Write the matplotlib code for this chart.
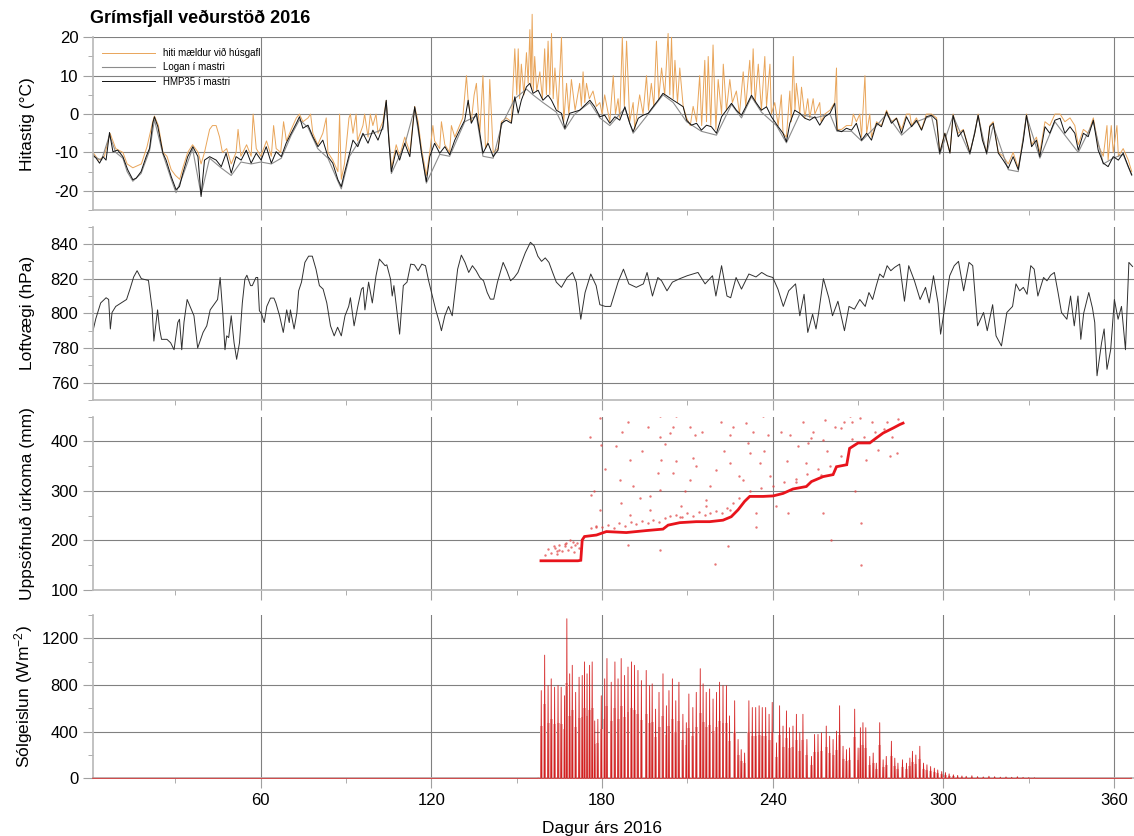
import numpy as np
import matplotlib.pyplot as plt
from matplotlib.ticker import MultipleLocator

plt.rcParams['font.family'] = ['Liberation Sans', 'DejaVu Sans']
plt.rcParams['axes.unicode_minus'] = False
plt.rcParams['mathtext.default'] = 'regular'

# --- hiti: HMP35 i mastri (dagur, gradur)
hmp_day = [1, 2.1, 3.3, 4.5, 5.6, 6.8, 8, 9.7, 11.5, 13.2, 15, 16.2, 17.9, 19.7, 20.9, 22, 22.6, 23.8,
           25.6, 26.7, 28.5, 30.2, 31.4, 32.6, 34.3, 36.1, 37.9, 39, 40.2, 42, 44.3, 46.1, 47.8, 49.6,
           51.3, 53.1, 54.9, 56.6, 58.4, 60.1, 61.9, 63.7, 65.4, 67.2, 68.9, 70.7, 72.5, 73.6, 74.8,
           76.6, 78.3, 80.1, 81.8, 83.6, 85.3, 87.1, 88.3, 89.4, 91.2, 92.4, 94.1, 95.9, 97.7, 99.4,
           101.2, 102.9, 104.1, 105, 105.9, 107.6, 108.8, 110.6, 112.4, 114.1, 115.3, 116.5, 118.2,
           119.4, 121.1, 122.9, 124.7, 126.4, 128.2, 129.9, 131.7, 132.9, 134, 135.8, 137, 138.1,
           139.9, 141.7, 143.4, 144.6, 146.3, 148.1, 149.3, 150.5, 151.6, 153.4, 154.6, 155.7, 157.5,
           159.2, 161, 162.2, 163.9, 165.7, 166.9, 168.6, 170.4, 172.1, 173.9, 175.7, 177.4, 179.2,
           180.9, 182.7, 184.5, 186.2, 188, 189.7, 190.9, 192.7, 194.4, 196.2, 197.9, 199.7, 201.4,
           203.2, 205, 206.7, 208.5, 209.7, 211.4, 213.2, 214.9, 216.7, 218.4, 220.2, 222, 223.7,
           225.5, 227.2, 229, 230.8, 232.5, 234.3, 236, 237.8, 239.5, 241.9, 243.6, 244.8, 246,
           247.7, 249.5, 251.3, 253, 254.8, 256.5, 258.3, 260.1, 261.8, 262.6, 264.2, 265.9, 267.7,
           269.4, 271.2, 273, 274.7, 276.5, 278.2, 280, 281.7, 283.5, 285.3, 287, 288.8, 290.5,
           292.3, 294, 295.8, 297.6, 298.7, 300.5, 302.3, 303.4, 305.2, 307, 309.3, 311, 312.2,
           313.7, 315.2, 316.3, 317.5, 319.3, 321, 322.8, 324.5, 326.3, 328.1, 329.2, 331, 332.7,
           333.9, 335.7, 337.4, 339.2, 341, 342.7, 344.5, 346.2, 347.4, 349.2, 350.9, 352.7, 354.4,
           356.2, 357.9, 359.7, 361.5, 363.2, 365, 366.2]
hmp_temp = [-10.6, -11.5, -12.8, -11.1, -12, -4.8, -9.8, -9.4, -11.1, -14.5, -17.1, -16.7, -15, -11.1,
            -8.9, -2.4, -0.7, -3.3, -10.2, -12, -16.3, -19.7, -18.9, -15.4, -11.1, -8.5, -11.1, -21.5,
            -12, -11.1, -12, -13.7, -10.2, -15.4, -11.1, -12, -9.4, -12.8, -10.2, -12, -8.5, -12.8,
            -9.8, -11.1, -7.6, -5, -2.4, -0.7, -3.7, -2.9, -5.9, -8.5, -6.8, -11.1, -12.8, -17.1,
            -18.9, -15.4, -10.2, -6.8, -8.5, -5, -7.6, -4.2, -6.8, -3.3, 3.6, -6.8, -15, -9.4, -12,
            -7.6, -11.1, 1.9, -3.3, -10.2, -17.6, -11.1, -7.6, -10.2, -8.5, -10.6, -6.8, -4.2, -1.6,
            3.6, -2.4, 0.2, -5, -10.2, -7.6, -11.1, -9.4, -2.4, -1.6, -2.4, 4.5, 0.2, 3.6, 7.1, 8,
            5.4, 6.2, 3.6, 4.9, 3.6, 1, 0.2, -3.7, 0.2, 0.6, 1, 2.3, 3.6, 1.9, -0.7, -0.3, -2.4, -0.7,
            -1.6, 1.9, -2.4, -4.6, -1.1, -0.3, 0.2, 1.9, 3.6, 5.4, 4.5, 3.6, 2.8, 1.9, -1.6, -2.9,
            -2.4, -4.2, -2.9, -3.3, -5, -0.7, 1, 2.8, 1, -0.3, 2.3, 4.9, 2.8, 1, 1.9, -0.7, -3.3, -5,
            -7.2, -2.4, 1, 0.2, -1.1, -1.6, -0.7, -2.9, -0.7, 0.2, 2.8, -4.2, -4.6, -3.7, -4.2, -2.4,
            -6.8, -5, -6.8, -2.4, -3.3, 0.6, -2.4, -1.1, -5, -0.7, -3.3, -1.6, -4.2, -0.7, -0.3, -1.6,
            -10.2, -5, -10.2, -0.3, -5.9, -4.2, -10.2, -5, -0.3, -6.8, -10.2, -3.3, -2.4, -10.2, -12,
            -14.1, -11.1, -14.5, -6.8, -0.3, -8.5, -6.8, -11.1, -3.3, -5, -1.6, -1.1, -5, -3.3, -5,
            -9.4, -5, -5.9, -1.6, -9.4, -12.8, -13.7, -11.1, -12, -10.2, -13.7, -15.8]

# --- hiti: Logan i mastri
logan_day = [1, 4, 6.8, 9, 11.5, 13, 15, 17.9, 20.9, 22.6, 25.6, 28.5, 30.2, 32.6, 36, 39, 42, 46, 49.6,
             53, 56.6, 60, 63.7, 67.2, 70.7, 73.6, 76.6, 80, 83.6, 87.1, 88.3, 91.2, 95.9, 99.4, 102.9,
             104.1, 105.9, 110.6, 114.1, 118.2, 122.9, 126.4, 131.7, 135.8, 138.1, 141.7, 144.6, 149.3,
             153.4, 155.7, 159.2, 163.9, 166.9, 170.4, 175.7, 179.2, 182.7, 188, 190.9, 196.2, 201.4,
             205, 209.7, 214.9, 220.2, 225.5, 229, 232.5, 236, 241.3, 244.8, 249.5, 254.8, 260.1,
             262.6, 267.7, 271.2, 276.5, 280, 285.3, 290.5, 295.8, 298.7, 303.4, 309.3, 312.2, 315.2,
             317.5, 322.8, 326.3, 329.2, 333.9, 339.2, 342.7, 347.4, 352.7, 356.2, 359.7, 363.2, 366.2]
logan_temp = [-11, -12, -5.5, -10, -11.5, -15, -17.5, -15.5, -9.5, -1.5, -10.5, -17, -20.5, -16, -9, -21,
              -11.5, -14, -16, -12.5, -13, -12.5, -13, -11.5, -5.5, -1.5, -3.5, -9, -11.5, -17.5, -19.5,
              -11, -5.5, -5, -4, 3, -15.5, -8, 1.5, -18, -10.5, -11, -2, -0.5, -11, -11.5, -3, 4, 6.5,
              5, 3, 0.5, -4, 0, 3, -1, -3, 1.5, -5, 0, 5, 3, -2, -4.5, -5.5, 2.5, -1, 4.5, 0.5, -3,
              -7.5, 0, -1, 0, -4.5, -4.5, -7, -3, 0, -5.5, -2, -0.5, -10.5, -0.5, -10.5, -0.5, -10.5,
              -3, -14.5, -15, -0.5, -11.5, -2, -5.5, -10, -2, -13, -11.5, -10.5, -16]

# --- hiti maeldur vid husgafl
hus_day = [1, 3, 5, 7, 9, 11.5, 13, 15, 16.5, 18, 20, 22, 22.6, 24, 25.6, 27, 28.5, 30, 31.5, 32.6, 34.3,
           36, 38, 39, 40.2, 42, 43, 44.3, 45.5, 46.5, 48, 49.6, 51.3, 52, 53, 55, 56.6, 57.3, 58.4, 60,
           62, 63.7, 64.5, 65.4, 67, 68, 69, 70.7, 72.5, 73.6, 74.8, 76.6, 77.5, 78.3, 80, 81.8, 83,
           83.6, 85.3, 87.1, 87.7, 88.3, 89.4, 91, 91.5, 92.4, 93.5, 94, 95.9, 96.5, 97.7, 98.5, 99.4,
           100.5, 101.2, 102.9, 104.1, 105, 106, 107.6, 108.8, 110.6, 112.4, 114.1, 115.3, 116.5, 118.2,
           119.4, 120.5, 121.1, 122.9, 123.5, 124.7, 126.4, 127, 128.2, 129.9, 131, 132.3, 132.9, 134,
           135, 135.8, 136.5, 137, 138.1, 139, 139.9, 140.5, 141.7, 143.4, 144.6, 146.3, 148.1,
           149.3, 150, 150.5, 151, 151.6, 152.5, 153.4, 154, 154.6, 155, 155.4, 155.8, 156.3, 157,
           158.1, 159, 159.8, 160.4, 161, 161.6, 162.2, 162.8, 163.4, 164.5, 165.7, 166.5, 167.5,
           168.3, 169.2, 170.5, 172.1, 172.7, 173.3, 173.9, 174.5, 175.5, 176.8, 178, 179.2, 180,
           180.9, 182.7, 183.9, 184.7, 185.6, 186.2, 187.1, 187.8, 188.6, 189.7, 190.9, 191.5, 193.2,
           194.4, 195.6, 196.3, 197.3, 198.2, 199.1, 199.9, 200.9, 202, 203.2, 203.8, 204.4, 205,
           205.6, 206.5, 207.3, 208.5, 209.7, 211, 212, 213.2, 214.3, 215, 216.1, 216.7, 217.3,
           218.2, 219, 220, 220.8, 222, 222.6, 223.7, 224.9, 225.8, 227.2, 228.3, 229.6, 230.5,
           231.9, 232.5, 233.1, 233.8, 234.9, 236, 237.2, 237.8, 239, 239.5, 240.7, 241.9, 243,
           243.6, 244.8, 246, 246.5, 247.2, 247.8, 248.3, 249.5, 250.1, 251.3, 252.3, 253, 254.2,
           254.8, 256.5, 257, 258.3, 260.1, 261.8, 262.4, 262.7, 264.2, 265.9, 267.7, 268.3, 269.4,
           270.6, 271.2, 272.4, 273, 274.1, 274.7, 276.5, 278.2, 280, 281.7, 283.5, 285.3, 287,
           288.2, 288.8, 290.5, 292.3, 294, 295.8, 297.6, 298.7, 300.5, 302.3, 303.4, 305.2, 307,
           309.3, 311, 312.2, 313.7, 315.2, 316.3, 317.5, 319.3, 321, 322.8, 324.5, 326.3, 328.1,
           329.2, 331, 332.7, 333.9, 335.7, 337.4, 339.2, 341, 342.7, 344.5, 346.2, 347.4, 349.2,
           350.9, 352.7, 354.4, 356.2, 357.5, 357.9, 359, 359.7, 361, 361.5, 363.2, 365, 366.2]
hus_temp = [-10, -12, -11, -5, -9, -10, -13, -14, -13.5, -13, -8.5, -2, -0.5, -3, -10, -11, -14.5, -16,
            -17, -14, -10, -8, -10, -13, -10, -4, -3, -3, -6, -10, -9, -13, -10, -4, -11, -8, -11, 0,
            -9, -11, -7, -11, -3, -9, -10, -2, -7, -4, -1, 0, -2, -1, 0, -5, -8, -5, -1, -10, -12,
            -15, 0, -17, -13, -1, 0, -5, 0, -7, -3, 0, -6, 0, -3, 0, -5, -2, 3.5, -6, -14, -8, -11,
            -6, -10, 2, -2, -9, -16, -10, -3, -7, -9, -2, -8, -10, -3, -6, -3, -1, 10, 3.5, -2, 5,
            8, 0, -5, 10, -9, -7, 9, -10, -9, -2, -1, -2,
            17, 5, 17, 4, 13, 5, 16, 8, 22, 7, 26, 6, 15, 6, 11, 4, 17, 5, 19, 5, 21, 4, 12, 1, 20,
            -2, 8, 0, 9, 1, 8, 2, 11, 3, 8, 4, 6, 2, 3, 0, 5, -2, 10, 0, 4, -1, 20, 2, 19, -2, 3,
            -4, 5, 0, 10, 1, 8, 2, 19, 4, 12, 5, 21, 5, 20, 4, 14, 3, 12, 2, -1, -3, 2, -2, 10, -3,
            14, -2, 15, -3, 18, -4, 9, 0, 13, 1, 9, 3, 6, 0, 11, 2, 14, 5, 17, 3, 13, 1, 15, 2, 13,
            0, 3, -3, 5, -5, -6, 6, -2, 15, 1, 8, 0, 7, -1, 4, -1, 4, 0, 3, -2, 0, 1, 3, 12, -4, -4,
            -3, -3, 0, -2, 0, -6, 10, -5, 0, -6, -2, -3, 1, -2, -1, -4, 0, 0, -3, -1, -4, 0, 0, -1,
            -10, -5, -10, 0, -5, -4, -10, -5, 0, -6, -10, -3, -2, -10, -11, -13, -10, -14, -6, 0, -8,
            -6, -10, -2, -3, 0, 0, -2, -1, -3, -8, -4, -5, -1, -8, -11, -3, -12, -3, -10, -3, -11,
            -9, -12, -15]

# --- loftvaegi (dagur, hPa)
pres_day = [1, 2, 3.7, 5.6, 6.5, 7.1, 7.7, 9, 12.8, 14, 15.3, 16.5, 18, 20.5, 21.8, 22.4, 23.7, 24.4,
            25.1, 27, 28.3, 29.5, 30.8, 31.4, 32.2, 33, 34.1, 36.5, 37.8, 39.7, 41, 42.2, 43.5, 44.8,
            45.7, 46.7, 47.4, 48, 48.7, 49.6, 50.6, 51.5, 52.5, 53.5, 54.4, 55.1, 56.4, 57, 58.3,
            58.9, 59.5, 60.2, 61.2, 62.1, 63.4, 64.6, 65.3, 66.6, 67.9, 69.1, 70, 70.4, 71.7, 72.7,
            73.3, 74.3, 75.5, 76.8, 78.1, 79.4, 80.6, 81.9, 83.2, 84.5, 85.8, 87, 88.3, 89.6, 90.9,
            91.5, 92.8, 94.1, 95.4, 96, 96.6, 97.9, 99.2, 100.5, 101.7, 103.7, 104.3, 105.6, 106.2,
            106.8, 108.8, 110.1, 111.4, 112.7, 114, 115.3, 116.6, 117.9, 119, 120.3, 121.5, 122.8,
            123.5, 124.7, 126, 127.3, 129.2, 130.5, 131.8, 133.1, 134.4, 135.7, 137, 138.3, 139.6,
            140.7, 141.9, 143.2, 145.2, 146.5, 147.8, 149.1, 150.4, 151.7, 153, 154.8, 156.1, 157.4,
            158.7, 160, 161.3, 162.6, 163.9, 165.7, 167.7, 169.6, 170.9, 172.5, 174, 176, 177.9,
            179.2, 181.1, 183, 185.6, 187.5, 189.4, 192, 194.5, 195.8, 197.7, 199.6, 200.9, 202.8,
            204.7, 207.3, 209.9, 213.7, 216.2, 218.8, 220, 222, 223.9, 225.2, 227.1, 229, 231.6,
            234.1, 236.1, 238, 240, 241.8, 243.7, 245.6, 248, 249.5, 251, 252.3, 254, 255.2, 256.1,
            257.8, 259.7, 261, 262.9, 265.2, 266.8, 268.7, 270.6, 272.5, 273.8, 275.1, 276.4, 277.6,
            278.9, 280.2, 281.5, 282.8, 284.6, 286.3, 287.8, 289.8, 291.8, 293.7, 295, 296.5, 298.1,
            299, 300.7, 302.2, 303.8, 305.3, 307.1, 309, 310.3, 312, 314.1, 315.4, 317.3, 318.5,
            320.4, 322.3, 324.3, 325.5, 326.8, 328.1, 329.4, 330.7, 331.9, 333.2, 335.2, 336.4,
            337.7, 339, 340.3, 341.5, 343.4, 344.7, 346, 347.3, 348.3, 349.3, 351.1, 352.4, 353.2,
            354, 355.6, 356.5, 357.5, 358.8, 360.1, 361.4, 362.6, 364, 365.2, 366.5]
pres_hpa = [790, 797, 806, 809, 808, 791, 800.5, 804, 808, 814, 821, 824.6, 820, 819, 802.4, 784, 802,
            791, 785, 785, 783, 779, 794.7, 796.6, 779, 795, 808, 798.6, 780, 789, 792.8, 802, 805,
            808, 820.7, 798.6, 779, 787, 786, 798.6, 783, 773.5, 783, 806, 819.8, 822, 816, 816,
            820.7, 820.7, 801.5, 800, 794.7, 804, 808.8, 808.8, 806, 798.6, 789, 802, 794.7, 802,
            791, 800.5, 813, 818, 829.4, 833, 833, 825.5, 816, 814, 806, 792.8, 787, 792, 787,
            798.6, 804, 809, 792.8, 804, 814, 815, 802, 818, 806, 821.7, 831.3, 827.5, 828, 819.8,
            810, 816, 788, 816, 818, 828.4, 828, 824.6, 828.4, 827.5, 818.8, 810, 802, 794.7, 790,
            798.6, 804, 798.6, 825.5, 833.6, 829.4, 823.6, 827.5, 824.6, 820.7, 818.8, 812, 808.2,
            808.2, 818, 829.4, 824.6, 818.8, 820.7, 823.6, 829.4, 835, 841, 839, 833, 830, 832,
            829.4, 823.6, 818, 815, 820.7, 823.6, 818, 796.6, 812, 822.7, 816, 805, 804, 804, 818,
            825.5, 817, 815, 817, 823.6, 810, 820.7, 818.8, 813, 818, 820, 821.7, 823.6, 817, 821.7,
            810, 827.5, 810, 809, 820.7, 814, 822.7, 821, 823.6, 821.7, 820.7, 814, 804, 813, 817,
            798.6, 811, 789, 799.5, 791, 800, 820, 809, 798.6, 807, 790, 804, 802.4, 808, 804, 812,
            808, 816, 822.7, 820.7, 827.5, 824.6, 826.5, 828.4, 807, 827.5, 818.8, 808, 815, 806,
            821.7, 806, 788, 806, 821.7, 827.5, 830, 813, 829.4, 827.5, 792.8, 800.5, 790, 805, 787,
            781.2, 800.5, 804, 817, 813, 815, 811, 827.5, 825.5, 810, 820.7, 818.8, 822, 823.6,
            812, 800.5, 796.6, 810, 792.8, 810, 785, 800, 812, 803, 794.7, 764, 783, 791, 767.7,
            779, 808, 796.6, 804, 779, 829.4, 827]

# --- uppsofnud urkoma (dagur, mm)
rain_day = [158.5, 162, 166.2, 171.5, 172.5, 173, 173.8, 178, 181.5, 188.5, 195.5, 201.4, 203.2, 207.3,
            213.1, 217.8, 222.5, 225.4, 227.8, 230.1, 231.9, 236.6, 240.1, 243.6, 247.1, 251.8, 253.6,
            257.7, 261.2, 262.4, 266, 267, 270, 274.1, 276.4, 278.8, 282.3, 284.6, 285.8]
rain_mm = [159, 159, 159, 159, 160, 201, 208, 211, 218, 216, 220, 223, 231, 236, 238, 238, 241, 248,
           262, 279, 289, 289, 290, 295, 304, 309, 319, 329, 333, 349, 353, 386, 397, 397, 407, 417,
           427, 434, 437]
stray_day = [179.1, 189.1, 196.1, 200.2, 206.1, 210.8, 221.9, 230.7, 236.6, 250.6, 258.3, 264.1, 267,
             270.6, 175.6, 179.7, 200.2, 203.7, 212.5, 224.8, 231.3, 238.3, 246, 252.4, 257.7, 277,
             283.5, 189.7, 200.8, 206.1, 211.9, 224.8, 231.9, 235.4, 251.8, 186.2, 199.6, 204.9, 210.8,
             220.2, 229.5, 248.3, 257, 176.2, 186.7, 193.2, 200.2, 207.8, 216.6, 224.8, 234.2, 245.4,
             257.7, 179.1, 189.7, 196.7, 207.3, 216.6, 271.1, 189.1, 200.2, 224.3, 219.6, 271.1,
             234.2, 241.2, 168.6, 178, 260.6, 253.6, 272.9, 281.1, 165, 167.4, 169.7, 163.5, 170.5,
             164.2, 166.8,
             176, 178, 180, 182, 184, 186, 188, 190, 192, 194, 196, 198, 200, 202, 204, 206, 208, 210,
             212, 214, 216, 218, 220, 222, 224, 226, 228, 232, 236, 240, 244, 248, 252, 256, 260, 264,
             268, 272, 276, 280, 284,
             177, 181, 185, 187, 191, 194, 197, 202, 205, 209, 213, 215, 218, 223, 226, 228, 233, 237,
             239, 243, 245, 249, 254, 259, 262, 265, 268, 269, 275, 279, 282,
             160, 161, 162, 163, 164, 165, 166, 167, 168, 169, 170, 171, 172]
stray_mm = [447, 440, 430, 451, 451, 430, 440, 437, 451, 440, 444, 427, 451, 447, 410, 393, 410, 417,
            413, 413, 397, 413, 413, 397, 403, 383, 376, 363, 363, 360, 366, 356, 376, 356, 356, 322,
            336, 336, 322, 343, 322, 319, 333, 292, 275, 285, 302, 269, 282, 262, 255, 255, 255, 262,
            252, 262, 248, 269, 235, 191, 181, 188, 153, 151, 228, 269, 201, 228, 201, 407, 363, 370,
            181, 194, 197, 185, 190, 178, 188,
            225, 230, 228, 232, 226, 235, 230, 238, 233, 240, 236, 242, 238, 245, 250, 252, 248, 255,
            250, 258, 252, 255, 260, 256, 265, 275, 285, 300, 305, 310, 318, 325, 335, 345, 350, 370,
            405, 410, 420, 440, 445,
            300, 345, 390, 420, 310, 380, 290, 395, 430, 300, 350, 420, 310, 380, 430, 330, 420, 380,
            330, 420, 360, 390, 420, 380, 430, 440, 440, 300, 440, 425, 410,
            170, 182, 175, 188, 172, 190, 178, 192, 180, 186, 176, 195, 185]

# --- solgeislun, dagleg hamarksgildi (dagur, W/m2)
sun_day = [1, 157.5, 158.6, 159.8, 161, 162.1, 163.3, 164.5, 165.6, 166.8, 167.6, 168.6, 169.5, 170.7,
           171.9, 173, 173.8, 174.7, 175.6, 176.5, 177.4, 178.5, 179.7, 180.9, 181.7, 183.2, 184.5,
           185.6, 186.7, 187.9, 189.1, 190.3, 191.4, 192.6, 193.8, 195.5, 196.7, 197.6, 198.8, 200,
           201.4, 202.6, 203.5, 204.7, 205.9, 207, 208.4, 209.6, 210.5, 211.9, 213.1, 214.5, 215.5,
           216.6, 217.8, 219, 220.2, 221.3, 222.5, 223.7, 224.8, 226.6, 227.8, 228.9, 230.1, 231.6,
           232.8, 234, 235.2, 236.3, 237.5, 238.7, 239.8, 241.3, 242.4, 243.6, 244.8, 245.9, 247.1,
           248.3, 249.5, 250.6, 252, 253.6, 254.7, 255.9, 257.1, 258.8, 260, 261.2, 262.4, 263.5,
           264.7, 265.9, 267, 268.8, 270, 270.8, 271.7, 272.7, 274.1, 275.3, 276.4, 277.6, 278.8,
           279.9, 281.7, 282.9, 284, 285.6, 287, 288.2, 289.1, 290.3, 291.7, 293, 294.2, 295.5,
           296.8, 298, 299.4, 300.7, 302, 303.5, 305, 306.5, 308, 310, 312, 314, 316, 318, 320,
           322, 324, 326, 328, 330, 332, 366]
sun_wm2 = [3, 3, 752, 1056, 795, 853, 781, 795, 781, 708, 1368, 896, 969, 737, 867, 882, 998, 896, 969,
           998, 492, 506, 708, 853, 1027, 824, 998, 853, 1027, 882, 954, 998, 969, 925, 838, 925, 795,
           810, 593, 737, 896, 622, 752, 853, 665, 824, 549, 477, 723, 607, 737, 940, 810, 737, 766,
           680, 737, 824, 795, 795, 535, 665, 333, 246, 217, 665, 607, 607, 622, 607, 607, 549, 651,
           304, 622, 448, 578, 434, 448, 549, 390, 549, 333, 188, 376, 376, 390, 448, 361, 333, 405,
           622, 275, 246, 260, 593, 260, 434, 477, 434, 188, 217, 130, 477, 159, 188, 318, 173, 130,
           159, 130, 174, 232, 200, 275, 130, 116, 101, 87, 72, 58, 49, 38, 30, 25, 20, 18, 22,
           15, 12, 18, 14, 10, 12, 9, 14, 8, 6, 5, 3]

fig = plt.figure(figsize=(11.34, 8.36), dpi=100)
W, H = 1134.0, 836.0
left = 93 / W
width = 1 - left


def panel(top, bottom, ylim, major, minor, label):
    ax = fig.add_axes([left, 1 - bottom / H, width, (bottom - top) / H])
    ax.set_xlim(1, 367)
    ax.set_ylim(*ylim)
    ax.xaxis.set_major_locator(MultipleLocator(60))
    ax.xaxis.set_minor_locator(MultipleLocator(30))
    ax.yaxis.set_major_locator(MultipleLocator(major))
    ax.yaxis.set_minor_locator(MultipleLocator(minor))
    ax.grid(True, which='major', color='#808080', lw=0.8)
    ax.set_axisbelow(True)
    for s in ['top', 'right']:
        ax.spines[s].set_visible(False)
    for s in ['left', 'bottom']:
        ax.spines[s].set_color('#b8b8b8')
        ax.spines[s].set_linewidth(1.2)
    ax.tick_params(which='major', length=7, color='#a0a0a0', labelsize=12)
    ax.tick_params(which='minor', length=3.5, color='#a0a0a0')
    ax.tick_params(axis='x', labelbottom=False)
    ax.set_ylabel(label, fontsize=12.5)
    ax.yaxis.set_label_coords(-58 / (W - 93), 0.5)
    return ax


ax1 = panel(37.3, 210, (-25, 20), 10, 5, 'Hitastig (°C)')
ax1.plot(hus_day, hus_temp, color='#E9A55A', lw=0.7, clip_on=False, label='hiti mældur við húsgafl')
ax1.plot(logan_day, logan_temp, color='#8c8c8c', lw=0.8, label='Logan í mastri')
ax1.plot(hmp_day, hmp_temp, color='#111111', lw=0.7, label='HMP35 í mastri')
ax1.legend(loc='upper left', bbox_to_anchor=(0.0, 0.99), frameon=False, fontsize=7,
           handlelength=5.5, labelspacing=0.45)

ax2 = panel(226.7, 400, (750, 850), 20, 10, 'Loftvægi (hPa)')
ax2.plot(pres_day, pres_hpa, color='#303030', lw=0.7)

ax3 = panel(416.7, 590, (100, 450), 100, 50, 'Uppsöfnuð úrkoma (mm)')
ax3.scatter(stray_day, stray_mm, s=3, color='#e04848', alpha=0.75, lw=0)
ax3.plot(rain_day, rain_mm, color='#e8141c', lw=2.0, solid_joinstyle='miter')

ax4 = panel(615, 778.3, (0, 1400), 400, 200, 'Sólgeislun (Wm$^{-2}$)')
# ljos flotur undir hverjum degi og raudur toppur
ax4.bar(sun_day, [0.6 * p for p in sun_wm2], width=1.05, color='#ebb6b6', lw=0, zorder=1.5)
sx, sy = [], []
for d, p in zip(sun_day, sun_wm2):
    sx += [d - 0.15, d, d + 0.15]
    sy += [0, p, 0]
ax4.plot(sx, sy, color='#d42020', lw=0.6, zorder=3, clip_on=False)
ax4.tick_params(axis='x', labelbottom=True)

fig.text(90 / W, 1 - 18 / H, 'Grímsfjall veðurstöð 2016', fontsize=13, fontweight='bold',
         va='center', ha='left')
fig.text(602 / W, 1 - 828 / H, 'Dagur árs 2016', fontsize=12.5, ha='center', va='center')

fig.savefig('out.png', dpi=100)
